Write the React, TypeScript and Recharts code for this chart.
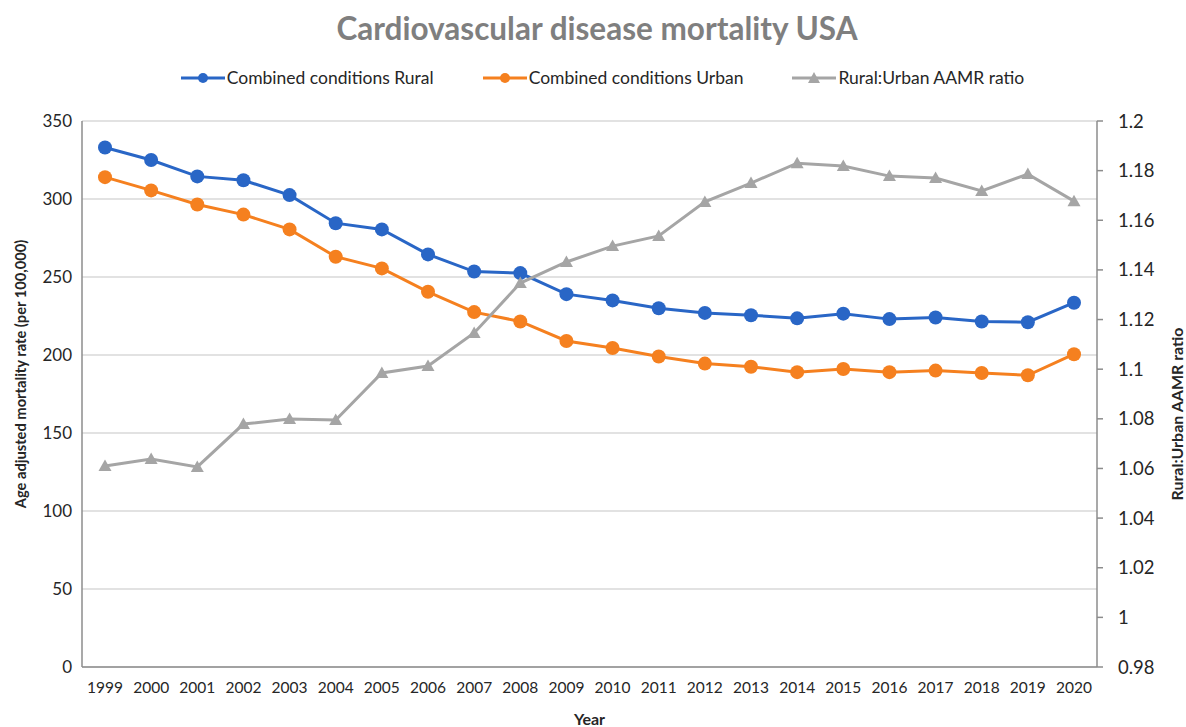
import React from "react";
import {
  CartesianGrid,
  Label,
  Legend,
  Line,
  LineChart,
  XAxis,
  YAxis,
} from "recharts";

const years = [
  "1999", "2000", "2001", "2002", "2003", "2004", "2005", "2006", "2007", "2008", "2009",
  "2010", "2011", "2012", "2013", "2014", "2015", "2016", "2017", "2018", "2019", "2020",
];

const rural = [
  333, 325, 314.5, 312, 302.5, 284.5, 280.5, 264.5, 253.5, 252.5, 239,
  235, 230, 227, 225.5, 223.5, 226.5, 223, 224, 221.5, 221, 233.5,
];

const urban = [
  314, 305.5, 296.5, 290, 280.5, 263, 255.5, 240.5, 227.5, 221.5, 209,
  204.5, 199, 194.5, 192.5, 189, 191, 189, 190, 188.5, 187, 200.5,
];

const ratio = [
  1.061, 1.0638, 1.0606, 1.0779, 1.0799, 1.0795, 1.0985, 1.1013, 1.1146, 1.1347, 1.1432,
  1.1496, 1.1537, 1.1674, 1.175, 1.183, 1.1819, 1.1778, 1.177, 1.1718, 1.1786, 1.1677,
];

const leftTicks = [0, 50, 100, 150, 200, 250, 300, 350];
const rightTicks = [0.98, 1, 1.02, 1.04, 1.06, 1.08, 1.1, 1.12, 1.14, 1.16, 1.18, 1.2];

const data = years.map((year, i) => ({
  year,
  rural: rural[i],
  urban: urban[i],
  ratio: ratio[i],
}));

const FONT = "Lato, 'Open Sans', sans-serif";
const BLUE = "#2966C6";
const ORANGE = "#F5801F";
const GRAY = "#A5A5A5";
const TEXT = "#262626";

const Triangle = (props: any) => {
  const { cx, cy } = props;
  if (cx == null || cy == null) return null;
  return (
    <path
      key={`tri-${props.index}`}
      d={`M${cx},${cy - 6.5}L${cx + 6.5},${cy + 5}L${cx - 6.5},${cy + 5}Z`}
      fill={GRAY}
    />
  );
};

const legendItems = [
  { name: "Combined conditions Rural", color: BLUE, shape: "circle" },
  { name: "Combined conditions Urban", color: ORANGE, shape: "circle" },
  { name: "Rural:Urban AAMR ratio", color: GRAY, shape: "triangle" },
];

const renderLegend = () => (
  <div
    style={{
      display: "flex",
      justifyContent: "center",
      gap: 49,
      fontFamily: FONT,
      fontSize: 17.5,
      color: TEXT,
      paddingLeft: 19,
    }}
  >
    {legendItems.map((item) => (
      <div key={item.name} style={{ display: "flex", alignItems: "center", gap: 2 }}>
        <svg width={44} height={14}>
          <line x1={0} y1={7} x2={44} y2={7} stroke={item.color} strokeWidth={3} />
          {item.shape === "circle" ? (
            <circle cx={22} cy={7} r={5} fill={item.color} />
          ) : (
            <path d="M22,1L28,12L16,12Z" fill={item.color} />
          )}
        </svg>
        <span>{item.name}</span>
      </div>
    ))}
  </div>
);

const LeftTitle = (props: any) => {
  const vb = props.viewBox || {};
  const cy = vb.y + vb.height / 2 - 20;
  return (
    <text
      x={20}
      y={cy}
      transform={`rotate(-90, 20, ${cy})`}
      textAnchor="middle"
      dominantBaseline="central"
      fontFamily={FONT}
      fontWeight="bold"
      fontSize={14.7}
      fill={TEXT}
    >
      Age adjusted mortality rate  (per 100,000)
    </text>
  );
};

const RightTitle = (props: any) => {
  const vb = props.viewBox || {};
  const cy = vb.y + vb.height / 2 + 20;
  return (
    <text
      x={1176}
      y={cy}
      transform={`rotate(-90, 1176, ${cy})`}
      textAnchor="middle"
      dominantBaseline="central"
      fontFamily={FONT}
      fontWeight="bold"
      fontSize={16}
      fill={TEXT}
    >
      Rural:Urban AAMR ratio
    </text>
  );
};

export default function App() {
  return (
    <div
      style={{
        position: "absolute",
        left: 0,
        top: 0,
        width: 1186,
        height: 727,
        background: "#fff",
      }}
    >
      <div
        style={{
          position: "absolute",
          top: 9,
          width: 1186,
          textAlign: "center",
          fontFamily: FONT,
          fontWeight: "bold",
          fontSize: 31.5,
          color: "#7F7F7F",
          paddingLeft: 8,
          boxSizing: "border-box",
        }}
      >
        Cardiovascular disease mortality USA
      </div>
      <LineChart
        width={1186}
        height={727}
        data={data}
        margin={{ top: 60, right: 0, left: 0, bottom: 0 }}
      >
        <Legend
          verticalAlign="top"
          height={61}
          content={renderLegend}
          wrapperStyle={{ top: 67 }}
        />
        <CartesianGrid vertical={false} stroke="#D9D9D9" strokeWidth={1.5} yAxisId="left" />
        <XAxis
          dataKey="year"
          height={60}
          padding={{ left: 23, right: 23 }}
          tickLine={false}
          axisLine={{ stroke: "#8C8C8C", strokeWidth: 1.5 }}
          tick={{ fill: TEXT, fontSize: 15.5, fontFamily: FONT }}
          tickMargin={9}
          interval={0}
        >
          <Label
            value="Year"
            position="insideBottom"
            offset={2}
            style={{ fontFamily: FONT, fontWeight: "bold", fontSize: 16, fill: TEXT }}
          />
        </XAxis>
        <YAxis
          yAxisId="left"
          width={82}
          domain={[0, 350]}
          ticks={leftTicks}
          tickLine={false}
          axisLine={{ stroke: "#8C8C8C", strokeWidth: 1.5 }}
          tick={{ fill: TEXT, fontSize: 17, fontFamily: FONT }}
          tickMargin={4}
          label={<LeftTitle />}
        />
        <YAxis
          yAxisId="right"
          orientation="right"
          width={89}
          domain={[0.98, 1.2]}
          ticks={rightTicks}
          tickFormatter={(v: number) => String(Number(v.toFixed(2)))}
          tickLine={{ stroke: "#8C8C8C", strokeWidth: 1.5 }}
          tickSize={6}
          axisLine={{ stroke: "#8C8C8C", strokeWidth: 1.5 }}
          tick={{ fill: TEXT, fontSize: 18.5, fontFamily: FONT }}
          tickMargin={15}
          label={<RightTitle />}
        />
        <Line
          yAxisId="left"
          dataKey="rural"
          name="Combined conditions Rural"
          stroke={BLUE}
          strokeWidth={3}
          dot={{ r: 7, fill: BLUE, stroke: BLUE, strokeWidth: 0 }}
          activeDot={false}
          isAnimationActive={false}
        />
        <Line
          yAxisId="left"
          dataKey="urban"
          name="Combined conditions Urban"
          stroke={ORANGE}
          strokeWidth={3}
          dot={{ r: 7, fill: ORANGE, stroke: ORANGE, strokeWidth: 0 }}
          activeDot={false}
          isAnimationActive={false}
        />
        <Line
          yAxisId="right"
          dataKey="ratio"
          name="Rural:Urban AAMR ratio"
          stroke={GRAY}
          strokeWidth={3}
          dot={<Triangle />}
          activeDot={false}
          isAnimationActive={false}
        />
      </LineChart>
    </div>
  );
}
